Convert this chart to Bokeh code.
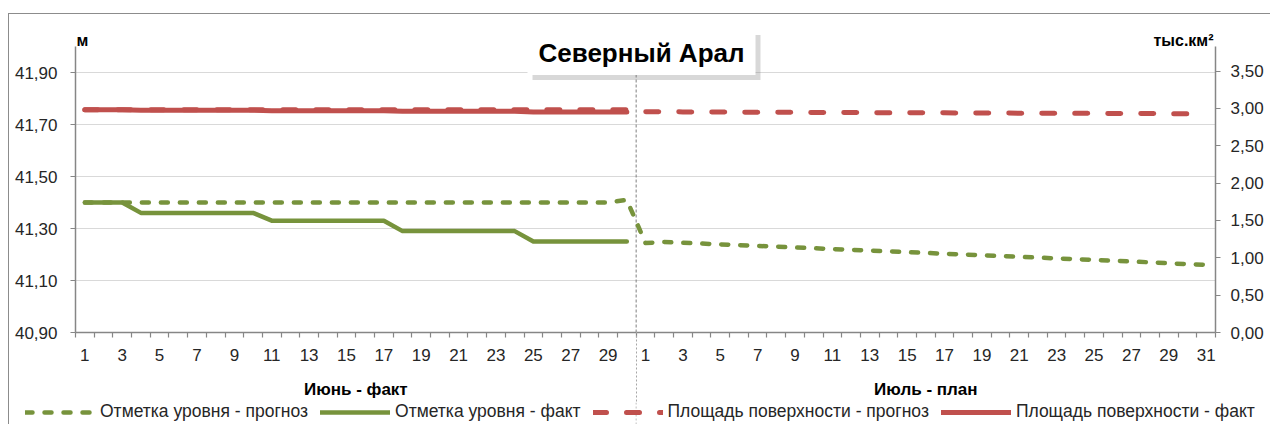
from bokeh.plotting import figure
from bokeh.layouts import column
from bokeh.models import (Range1d, LinearAxis, FixedTicker, CustomJSTickFormatter,
                          Legend, LegendItem, Label, Grid, BoxAnnotation, Span)
from bokeh.embed import file_html
from bokeh.resources import INLINE

# ---------------- data ----------------
june_days = [1, 2, 3, 4, 5, 6, 7, 8, 9, 10, 11, 12, 13, 14, 15,
             16, 17, 18, 19, 20, 21, 22, 23, 24, 25, 26, 27, 28, 29, 30]
july_days = [1, 2, 3, 4, 5, 6, 7, 8, 9, 10, 11, 12, 13, 14, 15, 16,
             17, 18, 19, 20, 21, 22, 23, 24, 25, 26, 27, 28, 29, 30, 31]
group_labels = ["Июнь - факт", "Июль - план"]
series_names = ["Отметка уровня - прогноз", "Отметка уровня - факт",
                "Площадь поверхности - прогноз", "Площадь поверхности - факт"]

level_forecast_june = [41.40, 41.40, 41.40, 41.40, 41.40, 41.40, 41.40, 41.40, 41.40, 41.40,
                       41.40, 41.40, 41.40, 41.40, 41.40, 41.40, 41.40, 41.40, 41.40, 41.40,
                       41.40, 41.40, 41.40, 41.40, 41.40, 41.40, 41.40, 41.40, 41.40, 41.41]
level_forecast_july = [41.244, 41.248, 41.245, 41.242, 41.239, 41.236, 41.233, 41.230,
                       41.227, 41.224, 41.221, 41.218, 41.215, 41.212, 41.209, 41.206,
                       41.203, 41.200, 41.197, 41.194, 41.191, 41.188, 41.185, 41.182,
                       41.179, 41.176, 41.173, 41.170, 41.166, 41.163, 41.160]
level_fact_june = [41.40, 41.40, 41.40, 41.36, 41.36, 41.36, 41.36, 41.36, 41.36, 41.36,
                   41.33, 41.33, 41.33, 41.33, 41.33, 41.33, 41.33, 41.29, 41.29, 41.29,
                   41.29, 41.29, 41.29, 41.29, 41.25, 41.25, 41.25, 41.25, 41.25, 41.25]
area_forecast_june = [2.980, 2.980, 2.980, 2.980, 2.980, 2.980, 2.980, 2.980, 2.980, 2.980,
                      2.980, 2.980, 2.980, 2.980, 2.980, 2.980, 2.980, 2.980, 2.980, 2.980,
                      2.980, 2.980, 2.980, 2.980, 2.980, 2.980, 2.980, 2.980, 2.980, 2.980]
area_forecast_july = [2.955, 2.954, 2.953, 2.952, 2.951, 2.950, 2.949, 2.948, 2.947, 2.946,
                      2.945, 2.944, 2.943, 2.942, 2.942, 2.941, 2.940, 2.939, 2.938, 2.937,
                      2.936, 2.935, 2.934, 2.934, 2.933, 2.932, 2.931, 2.930, 2.929, 2.929,
                      2.928]
area_fact_june = [2.980, 2.980, 2.980, 2.975, 2.975, 2.975, 2.975, 2.975, 2.975, 2.975,
                  2.969, 2.969, 2.969, 2.969, 2.969, 2.969, 2.969, 2.962, 2.962, 2.962,
                  2.962, 2.962, 2.962, 2.962, 2.952, 2.952, 2.952, 2.952, 2.952, 2.952]

left_ticks = [40.90, 41.10, 41.30, 41.50, 41.70, 41.90]
right_ticks = [0.0, 0.5, 1.0, 1.5, 2.0, 2.5, 3.0, 3.5]
left_bounds = (40.90, 42.00)
right_bounds = (0.0, 3.83)
title_text = "Северный Арал"
left_unit = "м"
right_unit = "тыс.км²"

# ---------------- style / layout ----------------
FONT = "Liberation Sans"
GREEN = "#77933C"
RED = "#C0504D"
AXIS = "#868686"
TXT = "#262626"

W = 1261
H_MAIN, H_LEG = 388, 22
BL, BR, BT, BB = 66, 55, 6, 70
FW, FH = W - BL - BR, H_MAIN - BT - BB     # frame size in px
PX_LEFT = 260.0                            # px per unit, left axis
PX_RIGHT = 74.71                           # px per unit, right axis
left_range = (left_bounds[0], left_bounds[0] + FH / PX_LEFT)
right_range = (right_bounds[0], right_bounds[0] + FH / PX_RIGHT)

n_june = len(june_days)
all_days = june_days + july_days
xs = list(range(len(all_days)))
june_x = xs[:n_june]
july_x = xs[n_june:]
x_range = (-0.5, len(all_days) - 0.5)
PX_X = FW / (x_range[1] - x_range[0])      # px per category


def dx(px):
    return px / PX_X


def dy(px):
    return px / PX_LEFT


p = figure(width=W, height=H_MAIN,
           x_range=Range1d(*x_range), y_range=Range1d(*left_range),
           x_axis_type=None, y_axis_type=None,
           output_backend="svg", toolbar_location=None,
           min_border_left=BL, min_border_right=BR,
           min_border_top=BT, min_border_bottom=BB)
p.frame_align = False
p.extra_y_ranges = {"area": Range1d(*right_range)}
p.outline_line_color = None
p.background_fill_color = "white"
p.border_fill_color = "white"

fmt = CustomJSTickFormatter(code="return tick.toFixed(2).replace('.', ',');")

yl = LinearAxis(ticker=FixedTicker(ticks=left_ticks), formatter=fmt, bounds=left_bounds)
yr = LinearAxis(y_range_name="area", ticker=FixedTicker(ticks=right_ticks), formatter=fmt,
                bounds=right_bounds)
for ax in (yl, yr):
    ax.axis_line_color = AXIS
    ax.axis_line_width = 1.5
    ax.major_tick_line_color = AXIS
    ax.major_tick_line_width = 1.2
    ax.major_tick_in = 0
    ax.major_tick_out = 5
    ax.minor_tick_line_color = None
    ax.major_label_text_font = FONT
    ax.major_label_text_font_size = "17px"
    ax.major_label_text_color = TXT
yl.major_label_standoff = 13
yr.major_label_standoff = 10
p.add_layout(yl, "left")
p.add_layout(yr, "right")

# day axis
label_idx = [i for i, d in enumerate(all_days) if d % 2 == 1]
boundaries = [i - 0.5 for i in range(len(all_days) + 1)]
xd = LinearAxis(ticker=FixedTicker(ticks=label_idx, minor_ticks=boundaries),
                major_label_overrides={i: str(all_days[i]) for i in label_idx})
xd.axis_line_color = AXIS
xd.axis_line_width = 1.5
xd.major_tick_line_color = None
xd.major_tick_in = 0
xd.major_tick_out = 0
xd.minor_tick_line_color = AXIS
xd.minor_tick_line_width = 1.2
xd.minor_tick_in = 0
xd.minor_tick_out = 5
xd.major_label_standoff = 11
xd.major_label_text_font = FONT
xd.major_label_text_font_size = "17px"
xd.major_label_text_color = TXT
p.add_layout(xd, "below")

# month group axis
sep = n_june - 0.5
june_mid = (n_june - 1) / 2
july_mid = n_june + (len(july_days) - 1) / 2
xg = LinearAxis(ticker=FixedTicker(ticks=[june_mid, july_mid], minor_ticks=[]),
                major_label_overrides={june_mid: group_labels[0], july_mid: group_labels[1]})
xg.axis_line_color = None
xg.major_tick_line_color = None
xg.minor_tick_line_color = None
xg.major_tick_in = 0
xg.major_tick_out = 0
xg.minor_tick_in = 0
xg.minor_tick_out = 0
xg.major_label_standoff = 16
xg.major_label_text_font = FONT
xg.major_label_text_font_style = "bold"
xg.major_label_text_font_size = "17px"
xg.major_label_text_color = "black"
p.add_layout(xg, "below")

# group separator below the plot (a lone minor tick pointing up)
xs_ax = LinearAxis(ticker=FixedTicker(ticks=[], minor_ticks=[sep]))
xs_ax.axis_line_color = None
xs_ax.major_tick_line_color = None
xs_ax.major_tick_in = 0
xs_ax.major_tick_out = 0
xs_ax.minor_tick_line_color = "#A6A6A6"
xs_ax.minor_tick_line_dash = "2 2"
xs_ax.minor_tick_in = 70
xs_ax.minor_tick_out = 0
xs_ax.major_label_text_font_size = "1px"
p.add_layout(xs_ax, "below")

# grid
p.add_layout(Grid(dimension=1, ticker=yl.ticker, grid_line_color="#D9D9D9", grid_line_width=1))

# separator inside plot
p.segment(x0=[sep], y0=[left_bounds[0]], x1=[sep], y1=[left_bounds[1]],
          line_color="#7F7F7F", line_dash="3 2", line_width=1)

# series
line_styles = [
    dict(line_color=GREEN, line_width=4.5, line_dash="7 12", line_cap="round", line_join="round"),
    dict(line_color=GREEN, line_width=4.5, line_cap="round", line_join="round"),
    dict(line_color=RED, line_width=5, line_dash="13 20", line_cap="round", line_join="round"),
    dict(line_color=RED, line_width=5, line_cap="round", line_join="round"),
]
p.line(june_x + july_x, level_forecast_june + level_forecast_july, **line_styles[0])
p.line(june_x, level_fact_june, **line_styles[1])
p.line(june_x + july_x, area_forecast_june + area_forecast_july, y_range_name="area",
       **line_styles[2])
p.line(june_x, area_fact_june, y_range_name="area", **line_styles[3])

# title box with shadow (inside the extended frame, above the axis top)
title_x = -0.5 + dx(566)
title_y = left_bounds[0] + dy(280)
box_w, box_h = 228, 45
p.add_layout(BoxAnnotation(left=title_x - dx(box_w / 2 - 5), right=title_x + dx(box_w / 2 + 5),
                           top=title_y + dy(box_h / 2 - 5), bottom=title_y - dy(box_h / 2 + 5),
                           fill_color="#7F7F7F", fill_alpha=0.3, line_color=None))
p.add_layout(BoxAnnotation(left=title_x - dx(box_w / 2), right=title_x + dx(box_w / 2),
                           top=title_y + dy(box_h / 2), bottom=title_y - dy(box_h / 2),
                           fill_color="white", fill_alpha=1, line_color=None))
p.add_layout(Label(x=title_x, y=title_y, text=title_text, text_font=FONT,
                   text_font_style="bold", text_font_size="26px", text_color="black",
                   text_align="center", text_baseline="middle"))

# axis units
unit_y = left_bounds[0] + dy(292)
p.add_layout(Label(x=x_range[0], y=unit_y, x_offset=1, text=left_unit, text_font=FONT,
                   text_font_style="bold", text_font_size="16px", text_color="black",
                   text_align="left", text_baseline="middle"))
p.add_layout(Label(x=x_range[1], y=unit_y, x_offset=-2, text=right_unit,
                   text_font=FONT, text_font_style="bold", text_font_size="16px",
                   text_color="black", text_align="right", text_baseline="middle"))

# ---------------- legend strip ----------------
leg_x_range = (x_range[0] - BL / PX_X, x_range[1] + BR / PX_X)
pl = figure(width=W, height=H_LEG, x_range=Range1d(*leg_x_range), y_range=Range1d(0, 1),
            x_axis_type=None, y_axis_type=None, output_backend="svg",
            toolbar_location=None, min_border=0)
pl.frame_align = False
pl.outline_line_color = None
pl.add_layout(Span(location=sep, dimension="height", line_color="#BFBFBF",
                   line_dash="2 2", line_width=1))
nan = float("nan")
leg_renderers = [pl.line([nan], [nan], **st) for st in line_styles]
legend = Legend(items=[LegendItem(label=name, renderers=[r])
                       for name, r in zip(series_names, leg_renderers)],
                orientation="horizontal", location=(16, 2),
                glyph_width=70, glyph_height=18, label_height=18, label_standoff=5,
                spacing=12, padding=0, margin=0,
                border_line_color=None, background_fill_alpha=0,
                label_text_font=FONT, label_text_font_size="17.5px", label_text_color=TXT)
pl.add_layout(legend)

layout = column(p, pl, spacing=0)
layout.styles = {"margin-left": "8px", "margin-top": "13px",
                 "border-top": "1px solid #8C8C8C", "border-left": "1px solid #8C8C8C"}

open("out.html", "w").write(file_html(layout, INLINE))
